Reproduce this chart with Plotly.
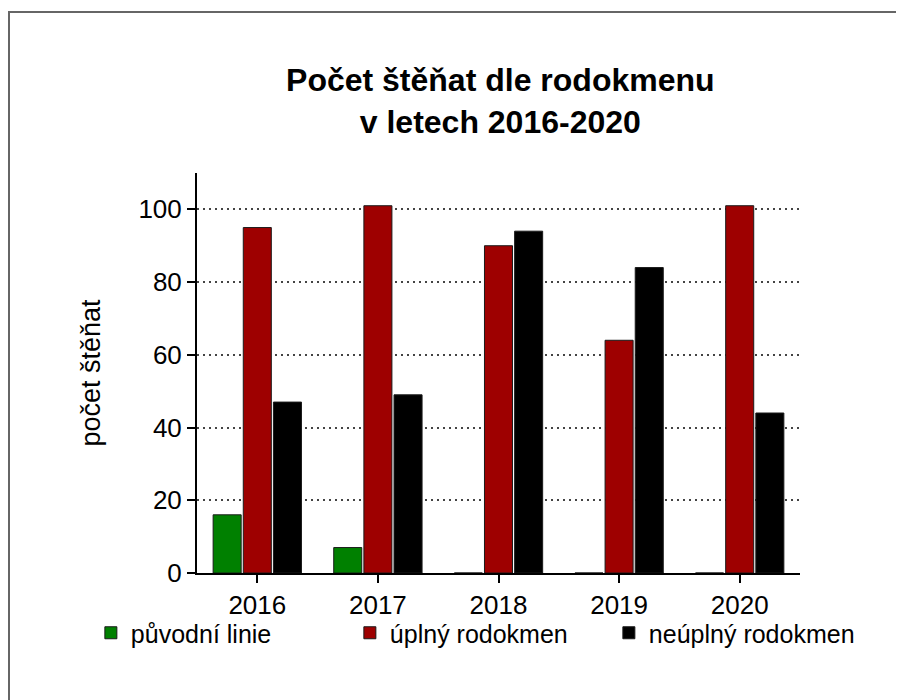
import plotly.graph_objects as go

years = ["2016", "2017", "2018", "2019", "2020"]
puvodni = [16, 7, 0, 0, 0]
uplny = [95, 101, 90, 64, 101]
neuplny = [47, 49, 94, 84, 44]
series_names = ["původní linie", "úplný rodokmen", "neúplný rodokmen"]
series_colors = ["#008000", "#9E0000", "#000000"]
y_ticks = [0, 20, 40, 60, 80, 100]

FONT = "Liberation Sans, Arial, sans-serif"

# page body has an 8px offset, so layout numbers are in figure pixels
L, T, W, H = 189, 165, 603, 400

fig = go.Figure()
for name, vals, col in zip(series_names, [puvodni, uplny, neuplny], series_colors):
    fig.add_trace(go.Bar(
        x=years, y=vals, name=name,
        marker=dict(color=col, line=dict(color="#1a1a1a", width=1)),
    ))

fig.update_layout(
    width=904, height=700,
    margin=dict(l=L, r=904 - L - W, t=T, b=700 - T - H, autoexpand=False),
    paper_bgcolor="white", plot_bgcolor="white",
    font=dict(family=FONT, size=26, color="black"),
    barmode="group", bargap=0.25, bargroupgap=0.07,
    title=dict(
        text="<b>Počet štěňat dle rodokmenu<br>v letech 2016-2020</b>",
        font=dict(family=FONT, size=32, color="black"),
        x=0.503, xref="paper", xanchor="center",
        y=1 - 83 / 700, yref="container", yanchor="middle",
    ),
    showlegend=True,
    legend=dict(
        orientation="h", x=-0.176, xanchor="left", y=-0.15, yanchor="middle",
        font=dict(family=FONT, size=25, color="black"),
        entrywidth=214, entrywidthmode="pixels",
        bgcolor="rgba(0,0,0,0)",
    ),
    xaxis=dict(
        type="category", range=[-0.5, 4.5],
        showline=True, linecolor="black", linewidth=2,
        ticks="outside", ticklen=8, tickwidth=2, tickcolor="black",
        showgrid=False, zeroline=False,
        tickfont=dict(family=FONT, size=26, color="black"),
    ),
    yaxis=dict(
        range=[0, 110], tickvals=y_ticks,
        showline=True, linecolor="black", linewidth=2,
        ticks="outside", ticklen=8, tickwidth=2, tickcolor="black",
        showgrid=True, gridcolor="#444444", gridwidth=2, griddash="2px,4px",
        zeroline=False,
        tickfont=dict(family=FONT, size=26, color="black"),
        title=dict(text="počet štěňat", font=dict(family=FONT, size=27, color="black"), standoff=30),
    ),
    shapes=[dict(
        type="rect", xref="paper", yref="paper",
        x0=(1 - L) / W, x1=2.0, y0=-1.0, y1=(T + H - 4) / H,
        line=dict(color="#666666", width=2), fillcolor="rgba(0,0,0,0)", layer="below",
    )],
)

fig.write_html("out.html")
